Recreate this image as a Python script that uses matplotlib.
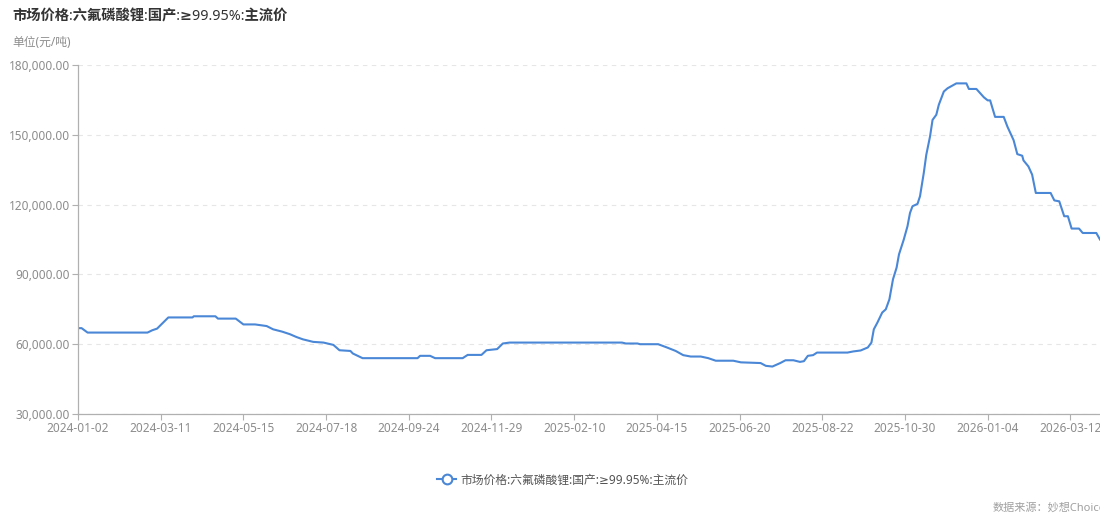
import matplotlib
matplotlib.use("Agg")
import matplotlib.pyplot as plt
import matplotlib.dates as mdates
from matplotlib.lines import Line2D
from matplotlib.ticker import FuncFormatter
import numpy as np
import pandas as pd

# 拉丁字符用 Noto Sans，≥ 用 DejaVu Sans，中文回退到 Noto Sans CJK SC
plt.rcParams['font.family'] = ['Noto Sans', 'DejaVu Sans', 'Noto Sans CJK SC']

# 六氟磷酸锂 国产主流价（元/吨）
dates = [
    "2024-01-02", "2024-01-05", "2024-01-10", "2024-02-29", "2024-03-04", "2024-03-08",
    "2024-03-17", "2024-04-05", "2024-04-06", "2024-04-23", "2024-04-25", "2024-05-09",
    "2024-05-15", "2024-05-24", "2024-06-02", "2024-06-07", "2024-06-14", "2024-06-20",
    "2024-06-25", "2024-06-30", "2024-07-08", "2024-07-16", "2024-07-24", "2024-07-29",
    "2024-08-07", "2024-08-09", "2024-08-17", "2024-10-01", "2024-10-03", "2024-10-11",
    "2024-10-15", "2024-11-06", "2024-11-10", "2024-11-21", "2024-11-25", "2024-12-04",
    "2024-12-09", "2024-12-15", "2025-03-19", "2025-03-22", "2025-03-31", "2025-04-02",
    "2025-04-16", "2025-04-23", "2025-04-30", "2025-05-06", "2025-05-12", "2025-05-20",
    "2025-05-26", "2025-06-01", "2025-06-15", "2025-06-21", "2025-07-06", "2025-07-10",
    "2025-07-15", "2025-07-21", "2025-07-25", "2025-07-31", "2025-08-05", "2025-08-08",
    "2025-08-11", "2025-08-15", "2025-08-18", "2025-09-12", "2025-09-17", "2025-09-23",
    "2025-09-29", "2025-10-02", "2025-10-04", "2025-10-07", "2025-10-11", "2025-10-14",
    "2025-10-17", "2025-10-20", "2025-10-23", "2025-10-25", "2025-10-29", "2025-11-01",
    "2025-11-03", "2025-11-05", "2025-11-09", "2025-11-11", "2025-11-14", "2025-11-16",
    "2025-11-19", "2025-11-21", "2025-11-24", "2025-11-26", "2025-11-30", "2025-12-03",
    "2025-12-10", "2025-12-18", "2025-12-20", "2025-12-26", "2026-01-01", "2026-01-04",
    "2026-01-06", "2026-01-10", "2026-01-17", "2026-01-20", "2026-01-25", "2026-01-28",
    "2026-02-01", "2026-02-02", "2026-02-06", "2026-02-09", "2026-02-12", "2026-02-24",
    "2026-02-27", "2026-03-03", "2026-03-07", "2026-03-10", "2026-03-13", "2026-03-19",
    "2026-03-22", "2026-04-02", "2026-04-05",
]
prices = [
    66900, 66900, 65000, 65000, 66000, 66700,
    71500, 71500, 72000, 72000, 71000, 71000,
    68500, 68500, 67800, 66400, 65400, 64300,
    63100, 62100, 61000, 60700, 59700, 57400,
    57100, 56000, 54000, 54000, 55000, 55000,
    54000, 54000, 55400, 55400, 57400, 57900,
    60300, 60700, 60700, 60300, 60300, 60000,
    60000, 58600, 57100, 55300, 54700, 54700,
    54000, 52900, 52900, 52200, 51900, 50700,
    50400, 51900, 53100, 53100, 52400, 52700,
    55000, 55300, 56400, 56400, 56900, 57300,
    58600, 60700, 66400, 69300, 73600, 75000,
    79300, 87900, 92900, 98600, 105000, 110700,
    116400, 119300, 120300, 123600, 133600, 141400,
    149300, 156400, 158600, 162900, 168600, 170000,
    172100, 172100, 169700, 169700, 166100, 164800,
    164800, 157700, 157700, 153500, 147700, 141700,
    141000, 139000, 136400, 132900, 125000, 125000,
    121800, 121400, 115000, 115000, 109700, 109700,
    107800, 107800, 105000,
]

tick_dates = [
    "2024-01-02", "2024-03-11", "2024-05-15", "2024-07-18", "2024-09-24",
    "2024-11-29", "2025-02-10", "2025-04-15", "2025-06-20", "2025-08-22",
    "2025-10-30", "2026-01-04", "2026-03-12",
]
y_ticks = [30000, 60000, 90000, 120000, 150000, 180000]

series_name = "市场价格:六氟磷酸锂:国产:≥99.95%:主流价"
line_color = "#4a87d6"
axis_gray = "#b0b0b0"
label_gray = "#8c8c8c"

x = pd.to_datetime(dates)
ticks = pd.to_datetime(tick_dates)

# 类目轴：刻度之间等距，按刻度日期分段线性映射
tick_num = mdates.date2num(ticks)
tick_num = np.append(tick_num, tick_num[-1] + 67)
tick_pos = np.arange(len(tick_num), dtype=float)


def forward(v):
    return np.interp(v, tick_num, tick_pos, left=np.nan, right=np.nan)


def inverse(p):
    return np.interp(p, tick_pos, tick_num)


fig = plt.figure(figsize=(11, 5.14), dpi=100)
ax = fig.add_axes([78 / 1100, 100 / 514, 1 - 78 / 1100, 349 / 514])

ax.plot(x, prices, color=line_color, linewidth=1.5, solid_joinstyle="round")

ax.set_xscale("function", functions=(forward, inverse))
ax.set_xlim(pd.Timestamp("2024-01-02"), pd.Timestamp("2026-04-05"))
ax.set_ylim(30000, 180000)

ax.set_xticks(ticks)
ax.xaxis.set_major_formatter(mdates.DateFormatter("%Y-%m-%d"))
ax.xaxis.set_minor_locator(matplotlib.ticker.NullLocator())
ax.set_yticks(y_ticks)
ax.yaxis.set_major_formatter(FuncFormatter(lambda v, p: f"{v:,.2f}"))

ax.tick_params(axis="both", colors=axis_gray, labelcolor=label_gray,
               labelsize=8.5, length=4, width=0.8, pad=2)

# 横向虚线网格
ax.yaxis.grid(True, color="#e6e6e6", linestyle=(0, (4, 4)), linewidth=0.8)
ax.set_axisbelow(True)

for side in ("top", "right"):
    ax.spines[side].set_visible(False)
for side in ("left", "bottom"):
    ax.spines[side].set_color(axis_gray)
    ax.spines[side].set_linewidth(0.9)

fig.text(12 / 1100, 1 - 17 / 514, series_name, fontsize=10.3, fontweight="bold",
         color="#333333", va="center", ha="left")
fig.text(12 / 1100, 1 - 43 / 514, "单位(元/吨)", fontsize=8.5,
         color=label_gray, va="center", ha="left")

handle = Line2D([], [], color=line_color, linewidth=1.5, marker="o",
                markersize=7, markerfacecolor="white", markeredgewidth=1.5)
fig.legend([handle], [series_name], loc="center",
           bbox_to_anchor=(563 / 1100, 1 - 480 / 514), frameon=False,
           fontsize=8.5, labelcolor="#555555", handlelength=1.6,
           handletextpad=0.4)

fig.text(993 / 1100, 1 - 508 / 514, "数据来源：妙想Choice", fontsize=8,
         color="#a0a0a0", va="center", ha="left")

fig.savefig("out.png", dpi=100)
